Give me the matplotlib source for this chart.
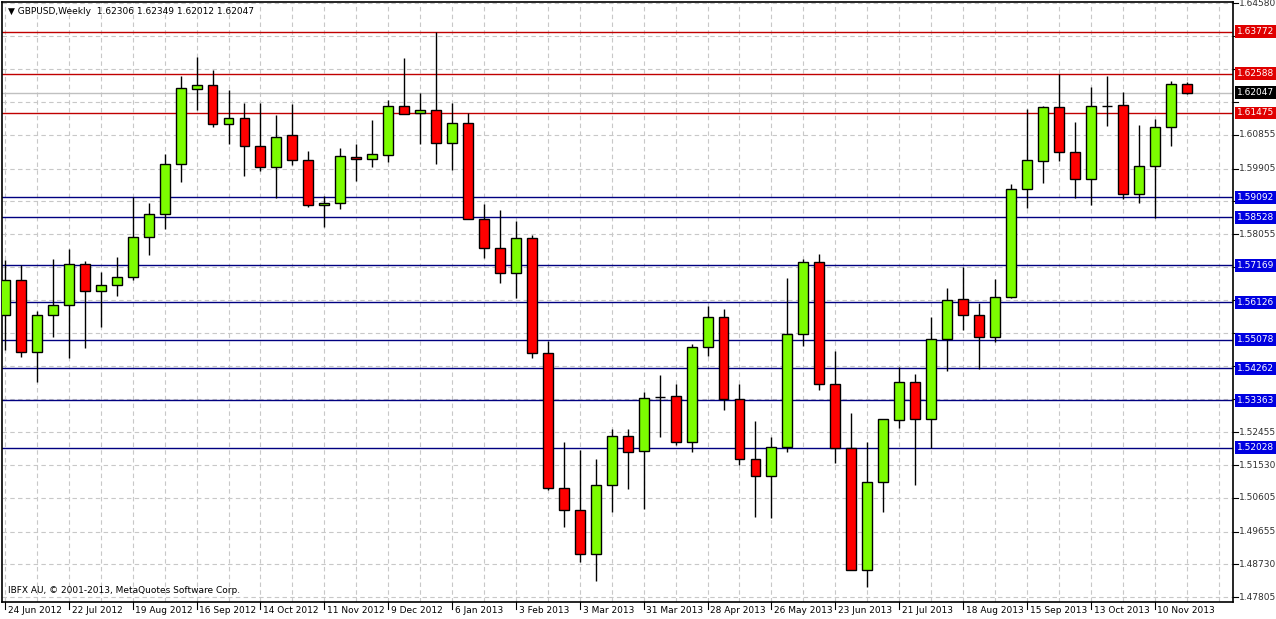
import numpy as np
import matplotlib
matplotlib.use("Agg")
from matplotlib import pyplot as plt

# weekly GBPUSD candles, 24 Jun 2012 .. 17 Nov 2013
opens = [1.5577, 1.5676, 1.5472, 1.5577, 1.5605, 1.5721, 1.5645, 1.5662, 1.5684, 1.5797,
         1.5862, 1.6003, 1.6215, 1.6226, 1.6116, 1.6133, 1.6054, 1.5995, 1.6085, 1.6015,
         1.5888, 1.5893, 1.6023, 1.6017, 1.6029, 1.6167, 1.6147, 1.6156, 1.6063, 1.6119,
         1.5848, 1.5766, 1.5696, 1.5794, 1.5470, 1.5088, 1.5026, 1.4902, 1.5097, 1.5235,
         1.5193, 1.5345, 1.5348, 1.5218, 1.5487, 1.5571, 1.5340, 1.5170, 1.5122, 1.5204,
         1.5523, 1.5727, 1.5382, 1.5201, 1.4857, 1.5105, 1.5280, 1.5388, 1.5283, 1.5509,
         1.5622, 1.5577, 1.5515, 1.5628, 1.5933, 1.6012, 1.6164, 1.6037, 1.5961, 1.6167,
         1.6170, 1.5919, 1.5998, 1.6108, 1.62306]
highs = [1.5732, 1.5718, 1.5588, 1.5735, 1.5763, 1.5729, 1.5698, 1.5741, 1.5910, 1.5893,
         1.6032, 1.6252, 1.6306, 1.6269, 1.6212, 1.6176, 1.6176, 1.6142, 1.6173, 1.6040,
         1.5913, 1.6049, 1.6060, 1.6128, 1.6184, 1.6303, 1.6204, 1.6376, 1.6176, 1.6147,
         1.5890, 1.5873, 1.5842, 1.5803, 1.5504, 1.5218, 1.5196, 1.5170, 1.5255, 1.5255,
         1.5360, 1.5408, 1.5382, 1.5495, 1.5602, 1.5594, 1.5382, 1.5278, 1.5232, 1.5681,
         1.5735, 1.5749, 1.5475, 1.5300, 1.5218, 1.5283, 1.5430, 1.5410, 1.5571, 1.5653,
         1.5712, 1.5611, 1.5679, 1.5947, 1.6159, 1.6167, 1.6258, 1.6122, 1.6221, 1.6252,
         1.6207, 1.6113, 1.6130, 1.6238, 1.62349]
lows = [1.5478, 1.5458, 1.5388, 1.5515, 1.5456, 1.5484, 1.5543, 1.5631, 1.5676, 1.5746,
        1.5820, 1.5953, 1.6156, 1.6108, 1.6060, 1.5970, 1.5984, 1.5907, 1.6001, 1.5882,
        1.5825, 1.5876, 1.5955, 1.5995, 1.6009, 1.6145, 1.6060, 1.6003, 1.5986, 1.5848,
        1.5738, 1.5667, 1.5625, 1.5456, 1.5083, 1.4978, 1.4879, 1.4826, 1.5021, 1.5086,
        1.5029, 1.5232, 1.5210, 1.5190, 1.5461, 1.5309, 1.5153, 1.5007, 1.5004, 1.5190,
        1.5489, 1.5365, 1.5159, 1.4857, 1.4809, 1.5021, 1.5258, 1.5097, 1.5201, 1.5419,
        1.5535, 1.5424, 1.5501, 1.5625, 1.5879, 1.5950, 1.6012, 1.5907, 1.5888, 1.6111,
        1.5905, 1.5893, 1.5851, 1.6054, 1.62012]
closes = [1.5676, 1.5472, 1.5577, 1.5605, 1.5721, 1.5645, 1.5662, 1.5684, 1.5797, 1.5862,
          1.6003, 1.6218, 1.6226, 1.6116, 1.6133, 1.6054, 1.5995, 1.6080, 1.6015, 1.5888,
          1.5893, 1.6026, 1.6017, 1.6032, 1.6167, 1.6145, 1.6156, 1.6063, 1.6119, 1.5848,
          1.5766, 1.5696, 1.5794, 1.5470, 1.5088, 1.5026, 1.4902, 1.5097, 1.5235, 1.5190,
          1.5343, 1.5345, 1.5218, 1.5487, 1.5571, 1.5340, 1.5170, 1.5122, 1.5204, 1.5523,
          1.5727, 1.5382, 1.5201, 1.4857, 1.5105, 1.5283, 1.5388, 1.5283, 1.5509, 1.5619,
          1.5577, 1.5515, 1.5628, 1.5933, 1.6015, 1.6164, 1.6037, 1.5961, 1.6167, 1.6167,
          1.5919, 1.5998, 1.6108, 1.6229, 1.62047]

date_labels = ["24 Jun 2012", "22 Jul 2012", "19 Aug 2012", "16 Sep 2012", "14 Oct 2012",
               "11 Nov 2012", "9 Dec 2012", "6 Jan 2013", "3 Feb 2013", "3 Mar 2013",
               "31 Mar 2013", "28 Apr 2013", "26 May 2013", "23 Jun 2013", "21 Jul 2013",
               "18 Aug 2013", "15 Sep 2013", "13 Oct 2013", "10 Nov 2013"]
price_ticks = [1.64580, 1.63655, 1.62705, 1.61780, 1.60855, 1.59905, 1.58980, 1.58055,
               1.57130, 1.56205, 1.55255, 1.54330, 1.53405, 1.52455, 1.51530, 1.50605,
               1.49655, 1.48730, 1.47805]
resist = [1.63772, 1.62588, 1.61475]
support = [1.59092, 1.58528, 1.57169, 1.56126, 1.55078, 1.54262, 1.53363, 1.52028]
last_price = 1.62047

o = np.array(opens); h = np.array(highs); l = np.array(lows); c = np.array(closes)
x = np.arange(len(o))

fig = plt.figure(figsize=(12.76, 6.19), dpi=100)
ax = fig.add_axes([0.0015, 17 / 619, 1231 / 1276, 600 / 619])
ax.set_xlim(-0.19, 76.9)
ax.set_ylim(1.47665, 1.64609)

# grid
for p in price_ticks:
    ax.axhline(p, color="#c8c8c8", lw=0.8, ls=(0, (4, 3)), zorder=0)
for xi in range(0, 78, 2):
    ax.axvline(xi, color="#c8c8c8", lw=0.8, ls=(0, (4, 3)), zorder=0)

for p in resist:
    ax.axhline(p, color="#c00000", lw=1, zorder=1)
for p in support:
    ax.axhline(p, color="#000080", lw=1, zorder=1)
ax.axhline(last_price, color="#c0c0c0", lw=1, zorder=1)

ax.vlines(x, l, h, color="black", lw=1, zorder=2)
up = c >= o
body_h = np.maximum(np.abs(c - o), 0.0001)
ax.bar(x, body_h, bottom=np.minimum(o, c), width=0.62,
       color=np.where(up, "#7cfc00", "#ff0000"), edgecolor="black", lw=1, zorder=3)

ax.set_xticks([])
ax.set_yticks([])
for s in ax.spines.values():
    s.set_linewidth(1.2)

levels = resist + support + [last_price]

# right price scale
for p in price_ticks:
    ax.plot([1, 1.004], [p, p], transform=ax.get_yaxis_transform(), color="black",
            lw=0.8, clip_on=False)
    if min(abs(p - v) for v in levels) < 0.0035:
        continue
    ax.annotate(f"{p:.5f}", (1, p), xycoords=("axes fraction", "data"), xytext=(4, 0),
                textcoords="offset points", va="center", fontsize=6.5, color="#303030",
                annotation_clip=False)
for p, col in [(v, "#e00000") for v in resist] + [(v, "#0000e0") for v in support] + [(last_price, "black")]:
    ax.annotate(f"{p:.5f}", (1, p), xycoords=("axes fraction", "data"), xytext=(3, 0),
                textcoords="offset points", va="center", fontsize=6.5, color="white",
                annotation_clip=False,
                bbox=dict(boxstyle="square,pad=0.2", fc=col, ec="none"))

# date scale
for i, lab in enumerate(date_labels):
    xi = i * 4
    ax.plot([xi, xi], [0, -0.012], transform=ax.get_xaxis_transform(), color="black",
            lw=0.8, clip_on=False)
    ax.annotate(lab, (xi, 0), xycoords=("data", "axes fraction"), xytext=(2, -3),
                textcoords="offset points", va="top", ha="left", fontsize=6.5,
                annotation_clip=False)

ax.text(0.005, 0.992, "\u25bc GBPUSD,Weekly  1.62306 1.62349 1.62012 1.62047",
        transform=ax.transAxes, va="top", fontsize=6.5)
ax.text(0.005, 0.012, "IBFX AU, \u00a9 2001-2013, MetaQuotes Software Corp.",
        transform=ax.transAxes, va="bottom", fontsize=6.5)

fig.savefig("out.png", dpi=100)
